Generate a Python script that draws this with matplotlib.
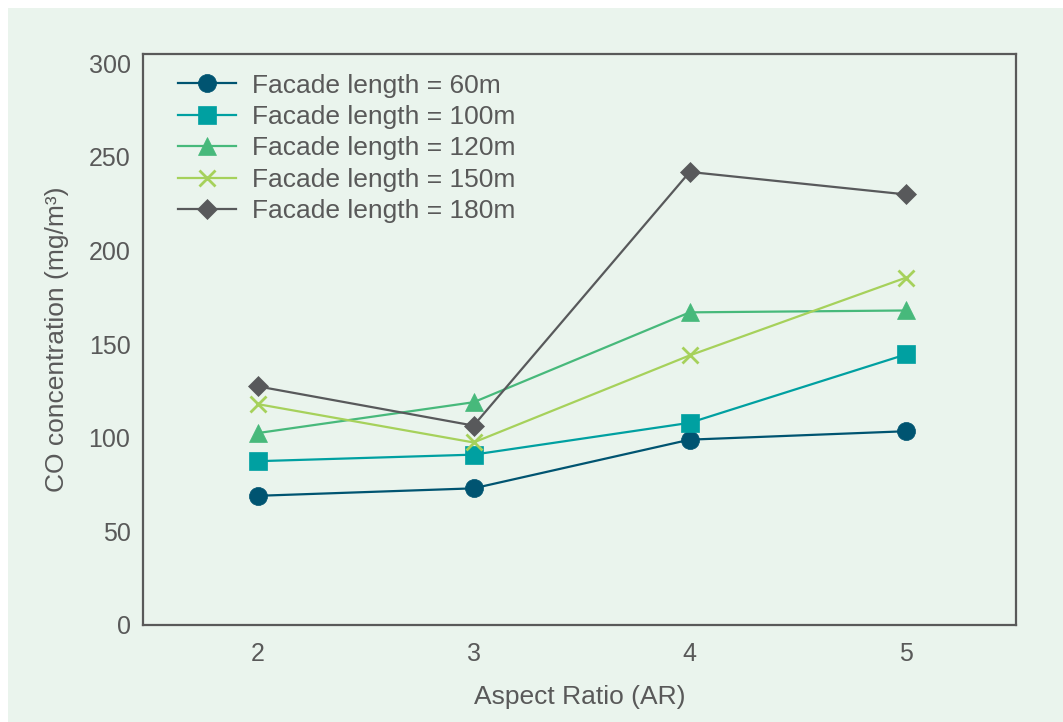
import matplotlib
matplotlib.use("Agg")
import matplotlib.pyplot as plt
from matplotlib.patches import Rectangle

# ---- data ----
aspect_ratio = [2, 3, 4, 5]
series_labels = ["Facade length = 60m", "Facade length = 100m", "Facade length = 120m",
                 "Facade length = 150m", "Facade length = 180m"]
co_60 = [69, 73, 99, 103.5]
co_100 = [87.5, 91, 108, 144.5]
co_120 = [102.5, 119, 167, 168]
co_150 = [118, 97.5, 144, 185.5]
co_180 = [127.5, 106.5, 242, 230]
y_ticks = [0, 50, 100, 150, 200, 250, 300]

colors = ["#005471", "#00A0A1", "#47B97B", "#A6D15B", "#58595B"]
markers = ["o", "s", "^", "x", "D"]
msizes = [13, 13, 13, 11, 10]

text_color = "#595959"
bg = "#EAF4ED"

plt.rcParams["font.family"] = ["Liberation Sans", "DejaVu Sans"]

fig = plt.figure(figsize=(10.63, 7.22), dpi=100)
fig.patch.set_facecolor("white")
bg_rect = Rectangle((8 / 1063, 0), 1 - 8 / 1063, 1 - 8 / 722,
                    transform=fig.transFigure, facecolor=bg,
                    edgecolor="none", zorder=-10)
fig.add_artist(bg_rect)

ax = fig.add_axes([143 / 1063, 1 - 625 / 722, (1016 - 143) / 1063, (625 - 54) / 722])
ax.set_facecolor(bg)

all_series = [co_60, co_100, co_120, co_150, co_180]
for vals, lab, c, m, ms in zip(all_series, series_labels, colors, markers, msizes):
    kw = dict(color=c, marker=m, markersize=ms, linewidth=1.6, label=lab,
              markerfacecolor=c, markeredgecolor=c)
    if m == "x":
        kw["markeredgewidth"] = 2.0
    else:
        kw["markeredgewidth"] = 0.5
    ax.plot(aspect_ratio, vals, **kw)

ax.set_xlim(1.47, 5.51)
ax.set_ylim(0, 305)
ax.set_xticks(aspect_ratio)
ax.set_yticks(y_ticks)
ax.tick_params(axis="both", length=0, labelsize=18, colors=text_color)
ax.tick_params(axis="y", pad=9)
ax.tick_params(axis="x", pad=12)

for sp in ax.spines.values():
    sp.set_color(text_color)
    sp.set_linewidth(1.6)

ax.set_xlabel("Aspect Ratio (AR)", fontsize=19, color=text_color, labelpad=14)
ax.set_ylabel("CO concentration (mg/m³)", fontsize=19, color=text_color, labelpad=14)

leg = ax.legend(loc="upper left", bbox_to_anchor=(0.028, 0.984), frameon=False,
                fontsize=19, handlelength=2.2, handletextpad=0.62,
                labelspacing=0.28, borderaxespad=0)
for t in leg.get_texts():
    t.set_color(text_color)

fig.savefig("out.png", dpi=100, facecolor=fig.get_facecolor())
